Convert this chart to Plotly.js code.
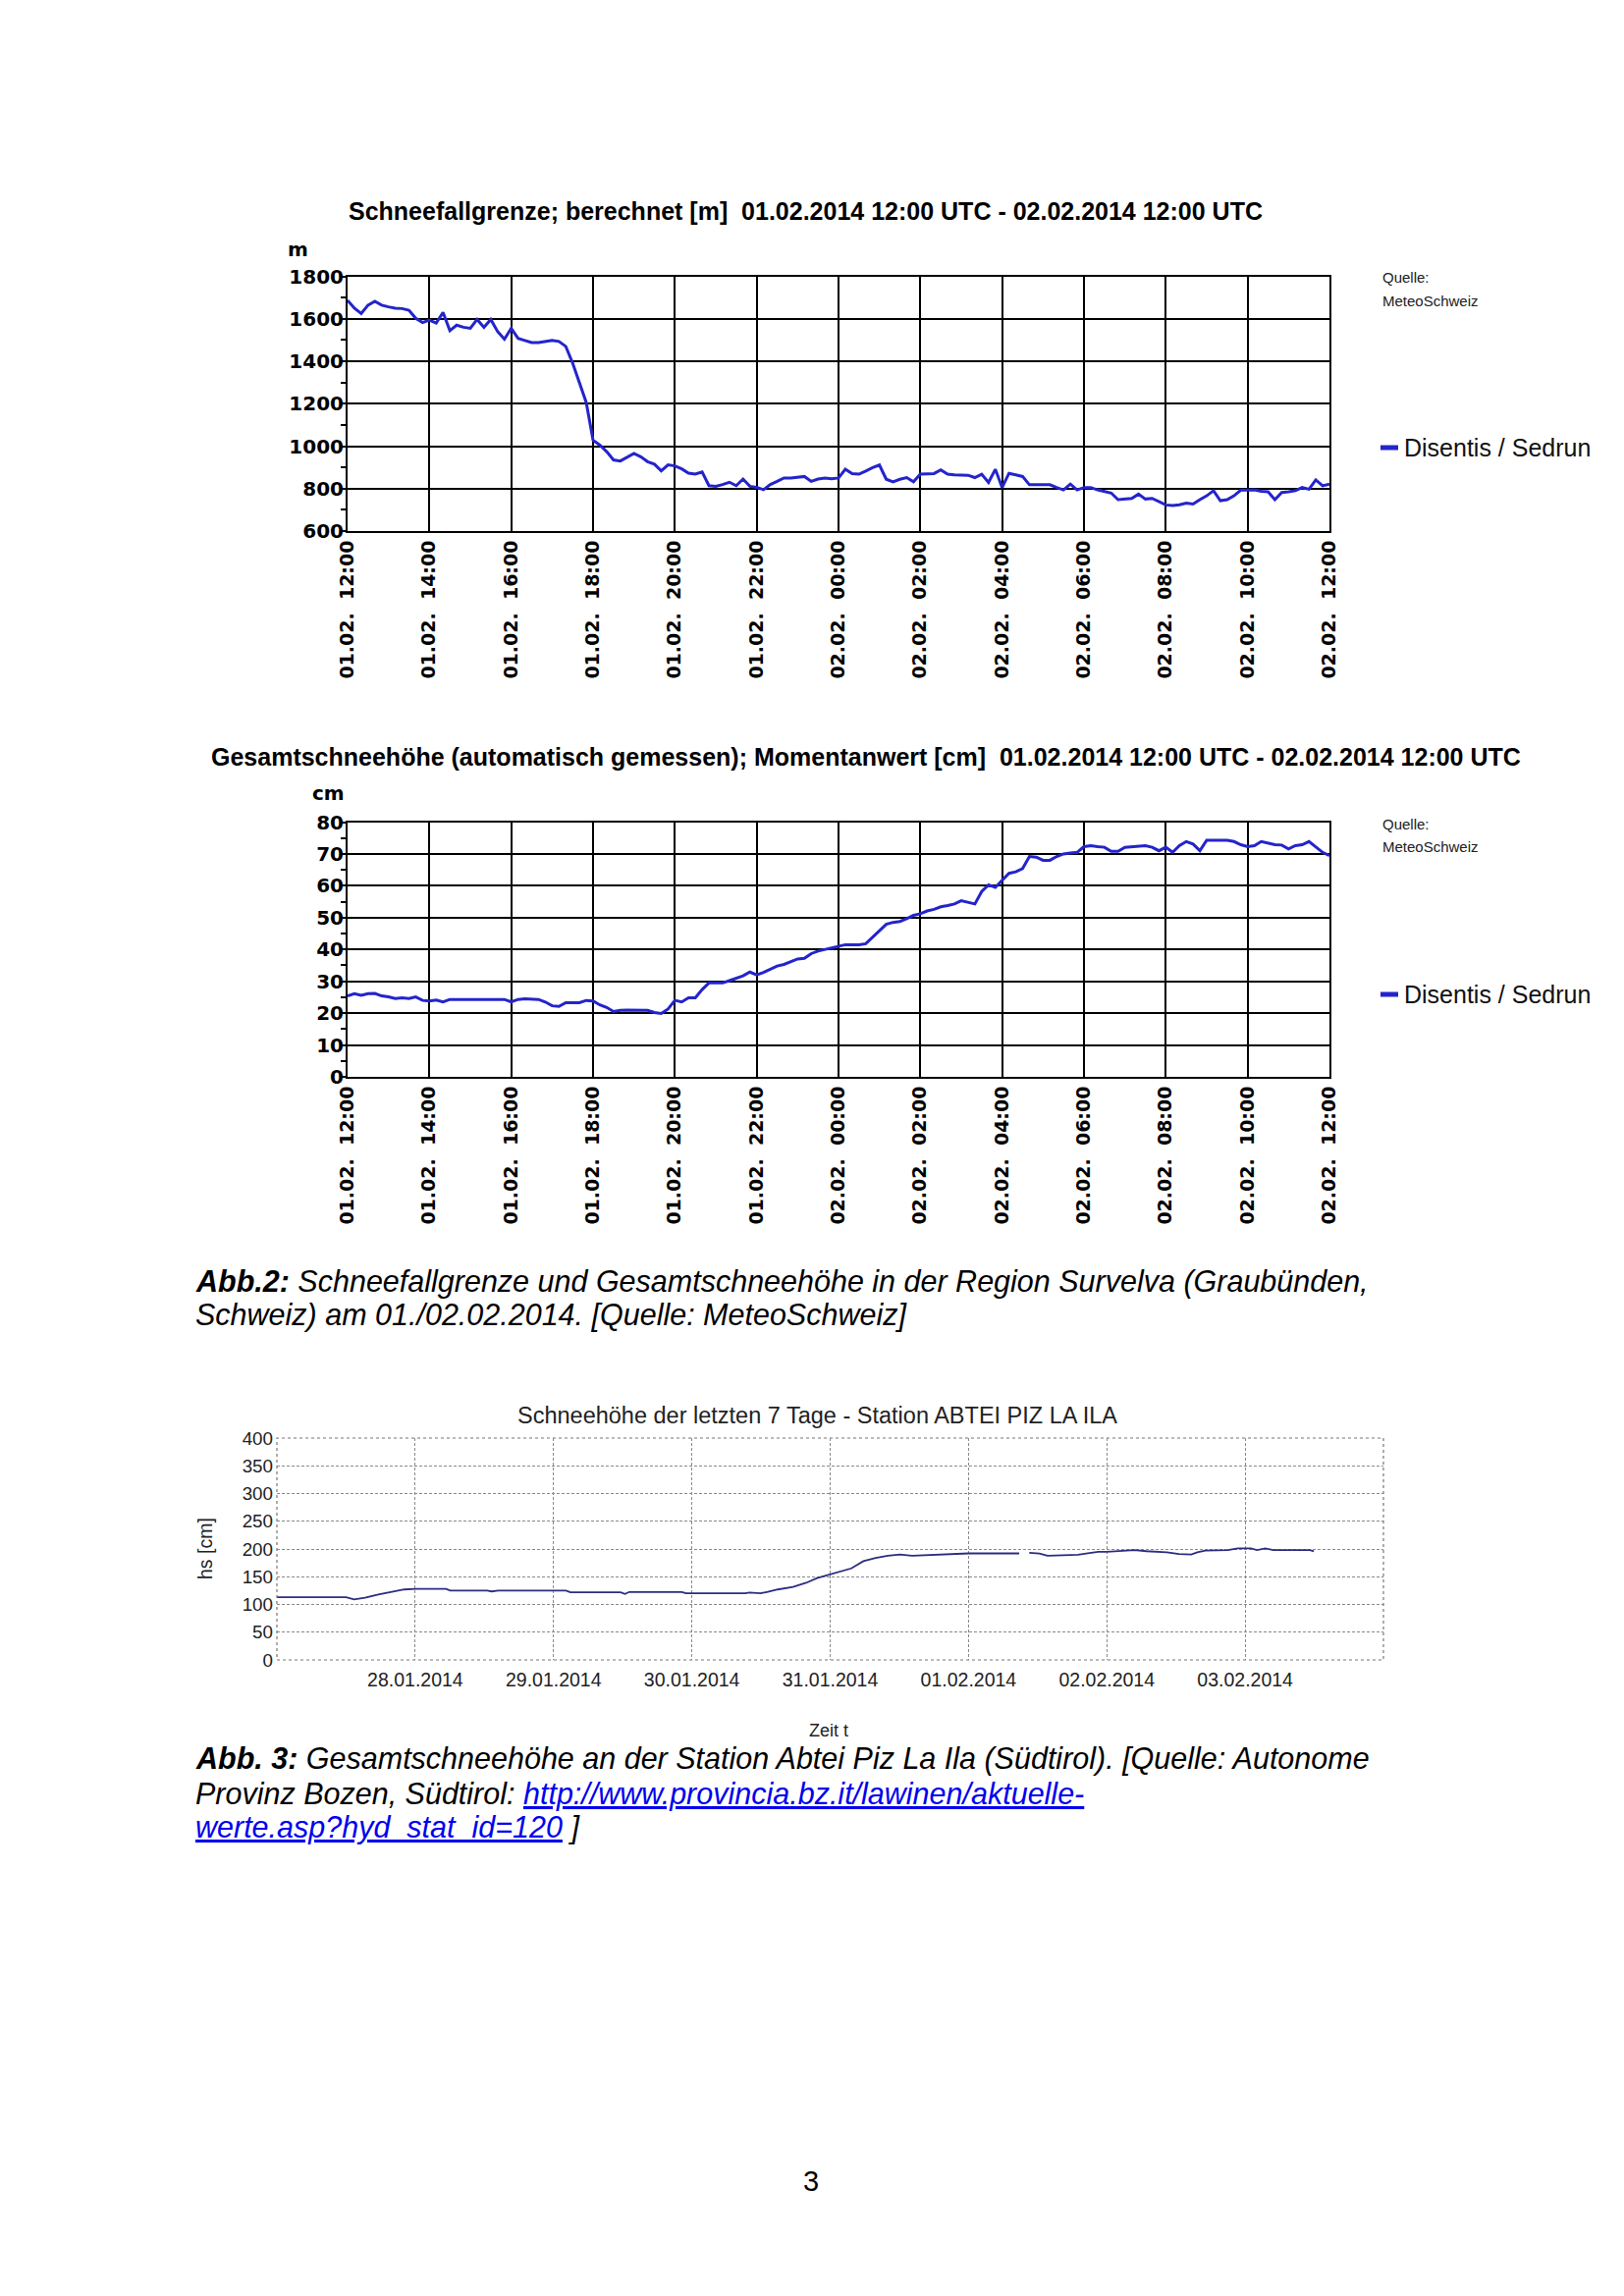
<!DOCTYPE html>
<html><head><meta charset="utf-8">
<script src="https://cdn.plot.ly/plotly-3.0.1.min.js"></script>
<style>html,body{margin:0;padding:0;background:#fff;}#page{width:1654px;height:2339px;}</style>
</head><body><div id="page"></div>
<script>
// ---------- DATA ----------
// Abb.2 (MeteoSchweiz), 10-minute readings 01.02.2014 12:00 UTC .. 02.02.2014 12:00 UTC
const sflStartUTC = [2014, 1, 1, 12, 0];   // 01.02.2014 12:00
const sflStepMinutes = 10;
const schneefallgrenze = [
 1687,1650,1625,1664,1682,1664,1656,1650,1648,1640,
 1602,1582,1594,1580,1630,1544,1570,1560,1555,1597,
 1560,1597,1540,1504,1555,1508,1498,1488,1488,1493,
 1498,1493,1470,1392,1300,1206,1028,1005,974,935,
 930,950,966,950,927,915,884,912,907,893,
 873,868,878,814,811,819,830,814,845,811,
 806,795,819,834,850,850,853,857,834,845,
 850,846,850,891,870,868,883,899,911,844,
 832,844,852,832,868,868,871,888,868,865,
 863,863,852,868,829,891,805,872,865,857,
 818,818,821,818,805,794,821,794,805,805,
 794,785,779,748,751,754,774,751,754,738,
 723,720,724,732,727,748,766,790,743,748,
 766,793,794,794,787,785,748,782,785,790,
 805,797,841,813,821];
const gesamtschneehoehe = [
 25.4,26.1,25.6,26.1,26.2,25.4,25.1,24.6,24.8,24.6,
 25.1,24.0,23.8,24.1,23.5,24.3,24.3,24.3,24.3,24.3,
 24.3,24.3,24.3,24.3,23.5,24.3,24.5,24.5,24.3,23.5,
 22.3,22.1,23.3,23.3,23.3,24.0,23.8,22.6,21.8,20.5,
 20.9,21.0,21.0,21.0,20.9,20.2,19.9,21.3,24.0,23.5,
 24.8,24.8,27.4,29.5,29.5,29.5,30.2,31.0,31.7,32.9,
 32.0,32.8,33.8,34.8,35.3,36.1,37.0,37.2,38.7,39.5,
 40.0,40.6,41.1,41.5,41.5,41.5,41.8,43.8,45.9,47.9,
 48.5,48.8,49.7,50.7,51.2,52.1,52.6,53.4,53.8,54.3,
 55.3,54.9,54.3,58.2,60.3,59.5,61.8,63.9,64.4,65.4,
 69.2,69.0,68.0,68.0,69.2,70.0,70.3,70.5,72.3,72.6,
 72.3,72.1,70.8,70.8,72.1,72.3,72.4,72.6,72.1,71.0,
 72.1,70.5,72.6,73.9,73.1,71.0,74.3,74.3,74.3,74.3,
 73.9,72.9,72.3,72.6,73.9,73.3,72.9,72.8,71.6,72.6,
 72.9,73.9,72.1,70.5,69.5];
const meteoTickLabels = [
 '01.02.\u00a0\u00a012:00','01.02.\u00a0\u00a014:00','01.02.\u00a0\u00a016:00','01.02.\u00a0\u00a018:00',
 '01.02.\u00a0\u00a020:00','01.02.\u00a0\u00a022:00','02.02.\u00a0\u00a000:00','02.02.\u00a0\u00a002:00',
 '02.02.\u00a0\u00a004:00','02.02.\u00a0\u00a006:00','02.02.\u00a0\u00a008:00','02.02.\u00a0\u00a010:00',
 '02.02.\u00a0\u00a012:00'];
const stationName = 'Disentis / Sedrun';

// Abb.3 (Abtei Piz La Ila), last 7 days
const abteiTimes = [
 '2014-01-27 00:00','2014-01-27 12:00','2014-01-27 13:24','2014-01-27 15:18','2014-01-27 17:36',
 '2014-01-27 19:54','2014-01-27 22:06','2014-01-28 00:00','2014-01-28 05:20','2014-01-28 06:05',
 '2014-01-28 12:30','2014-01-28 13:15','2014-01-28 14:25','2014-01-29 02:10','2014-01-29 02:55',
 '2014-01-29 11:38','2014-01-29 12:24','2014-01-29 13:09','2014-01-29 22:15','2014-01-29 23:00',
 '2014-01-30 09:14','2014-01-30 10:00','2014-01-30 11:53','2014-01-30 13:02','2014-01-30 14:55',
 '2014-01-30 17:34','2014-01-30 19:50','2014-01-30 21:44','2014-01-31 00:00','2014-01-31 03:40',
 '2014-01-31 05:46','2014-01-31 07:53','2014-01-31 10:00','2014-01-31 12:06','2014-01-31 14:13',
 '2014-01-31 16:20','2014-01-31 18:26','2014-01-31 20:33','2014-01-31 22:40','2014-02-01 00:00',
 '2014-02-01 08:48','2014-02-01 09:40','2014-02-01 10:33','2014-02-01 12:19','2014-02-01 13:43',
 '2014-02-01 19:00','2014-02-01 20:24','2014-02-01 22:30','2014-02-02 00:00','2014-02-02 02:41',
 '2014-02-02 04:47','2014-02-02 06:54','2014-02-02 10:25','2014-02-02 12:32','2014-02-02 14:39',
 '2014-02-02 15:42','2014-02-02 17:07','2014-02-02 20:59','2014-02-02 22:44','2014-02-03 01:00',
 '2014-02-03 02:04','2014-02-03 03:29','2014-02-03 04:54','2014-02-03 11:14','2014-02-03 11:56'];
const abteiHs = [
 113,113,109,112,118,
 123,127,128,128,125,
 125,123.5,125,125,122,
 122,119,122.5,122.5,120,
 120,121.5,120,122.5,127,
 131.5,139,147.5,154,165,
 178,184,188,190,188,
 189,190,191,192,192,
 192,null,193,192,188,
 189.5,192,195,195,196,
 198,196,194,191,190,
 194,197,198,201,201,
 198,201,198,198,196];
const abteiTickVals = ['2014-01-28','2014-01-29','2014-01-30','2014-01-31','2014-02-01','2014-02-02','2014-02-03'];
const abteiTickLabels = ['28.01.2014','29.01.2014','30.01.2014','31.01.2014','01.02.2014','02.02.2014','03.02.2014'];

// ---------- BUILD ----------
const pad = n => String(n).padStart(2,'0');
const base = Date.UTC(...sflStartUTC);
const meteoTimes = schneefallgrenze.map((_, i) => {
  const d = new Date(base + i*sflStepMinutes*60000);
  return d.getUTCFullYear()+'-'+pad(d.getUTCMonth()+1)+'-'+pad(d.getUTCDate())+' '+pad(d.getUTCHours())+':'+pad(d.getUTCMinutes());
});
const meteoTickVals = meteoTickLabels.map((_, i) => meteoTimes[i*12]);

const W = 1654, H = 2339;
const fx = p => p / W, fy = p => 1 - p / H;
const BLUE = '#2424cc';

const bold20 = {family:'DejaVu Sans', size:20, color:'#000', weight:'bold'};
const xTickFont = {family:'DejaVu Sans', size:19, color:'#000', weight:'bold'};

function meteoX(dom, anchor){
  return {domain:dom, anchor:anchor, type:'date', range:[meteoTimes[0], meteoTimes[meteoTimes.length-1]],
    tickmode:'array', tickvals:meteoTickVals, ticktext:meteoTickLabels, tickangle:-90, tickfont:xTickFont,
    showgrid:true, gridcolor:'#000', gridwidth:2, showline:true, mirror:true, linecolor:'#000', linewidth:2,
    zeroline:false, ticks:'', fixedrange:true};
}
function meteoY(dom, anchor, rng, dt, minorDt){
  return {domain:dom, anchor:anchor, range:rng, tick0:rng[0], dtick:dt, tickfont:bold20,
    ticks:'outside', ticklen:4, tickwidth:2, tickcolor:'#000', ticklabelstandoff:-6,
    minor:{tick0:rng[0], dtick:minorDt, ticks:'outside', ticklen:5, tickwidth:2, tickcolor:'#000', showgrid:false},
    showgrid:true, gridcolor:'#000', gridwidth:2, showline:true, mirror:true, linecolor:'#000', linewidth:2,
    zeroline:false, fixedrange:true};
}

const traces = [
  {x:meteoTimes, y:schneefallgrenze, xaxis:'x', yaxis:'y', mode:'lines', line:{color:BLUE, width:3}, name:stationName},
  {x:meteoTimes, y:gesamtschneehoehe, xaxis:'x2', yaxis:'y2', mode:'lines', line:{color:BLUE, width:3}, name:stationName},
  {x:abteiTimes, y:abteiHs, xaxis:'x3', yaxis:'y3', mode:'lines', connectgaps:false, line:{color:'#2d2d80', width:1.8}, name:'hs'}
];

const sans = (size, color) => ({family:'Liberation Sans, Arial, sans-serif', size:size, color:color||'#000'});
function ann(text, x, y, font, xanchor, extra){
  return Object.assign({text:text, x:fx(x), y:fy(y), xref:'paper', yref:'paper', showarrow:false,
    xanchor:xanchor||'left', yanchor:'middle', font:font}, extra||{});
}
const linkStyle = 'color:#0000ee';

const annotations = [
  ann('<b>Schneefallgrenze; berechnet [m]\u00a0 01.02.2014 12:00 UTC - 02.02.2014 12:00 UTC</b>', 353, 215, sans(25)),
  ann('<b>m</b>', 303, 254, bold20, 'center'),
  ann('Quelle:', 1406, 283, sans(15,'#222')),
  ann('MeteoSchweiz', 1406, 306, sans(15,'#222')),
  ann(stationName, 1428, 456, sans(25,'#111')),

  ann('<b>Gesamtschneehöhe (automatisch gemessen); Momentanwert [cm]\u00a0 01.02.2014 12:00 UTC - 02.02.2014 12:00 UTC</b>', 213, 771, sans(25)),
  ann('<b>cm</b>', 334, 808, bold20, 'center'),
  ann('Quelle:', 1406, 840, sans(15,'#222')),
  ann('MeteoSchweiz', 1406, 862, sans(15,'#222')),
  ann(stationName, 1428, 1013, sans(25,'#111')),

  ann('<b><i>Abb.2:</i></b><i> Schneefallgrenze und Gesamtschneehöhe in der Region Survelva (Graubünden,</i>', 197, 1305, sans(30.5)),
  ann('<i>Schweiz) am 01./02.02.2014. [Quelle: MeteoSchweiz]</i>', 197, 1339, sans(30.5)),

  ann('Schneehöhe der letzten 7 Tage - Station ABTEI PIZ LA ILA', 832, 1442, sans(23.5,'#222'), 'center'),
  ann('hs [cm]', 209, 1578, sans(19.5,'#222'), 'center', {textangle:-90}),
  ann('Zeit t', 844, 1763, sans(18,'#222'), 'center'),

  ann('<b><i>Abb. 3:</i></b><i> Gesamtschneehöhe an der Station Abtei Piz La Ila (Südtirol). [Quelle: Autonome</i>', 197, 1791, sans(30.5)),
  ann('<i>Provinz Bozen, Südtirol: <a href="http://www.provincia.bz.it/lawinen/aktuelle-werte.asp?hyd_stat_id=120" style="'+linkStyle+'"><u>http://www.provincia.bz.it/lawinen/aktuelle-</u></a></i>', 197, 1827, sans(30.5)),
  ann('<i><a href="http://www.provincia.bz.it/lawinen/aktuelle-werte.asp?hyd_stat_id=120" style="'+linkStyle+'"><u>werte.asp?hyd_stat_id=120</u></a> ]</i>', 197, 1861, sans(30.5)),

  ann('3', 826, 2222, sans(29), 'center')
];

const shapes = [
  {type:'line', xref:'paper', yref:'paper', x0:fx(1406), x1:fx(1424), y0:fy(456), y1:fy(456), line:{color:BLUE, width:5}},
  {type:'line', xref:'paper', yref:'paper', x0:fx(1406), x1:fx(1424), y0:fy(1013), y1:fy(1013), line:{color:BLUE, width:5}},
  {type:'rect', xref:'paper', yref:'paper', x0:fx(282), x1:fx(1409), y0:fy(1691), y1:fy(1465), line:{color:'#777', width:1.2, dash:'dot'}}
];

const layout = {
  width:W, height:H, autosize:false, margin:{l:0,r:0,t:0,b:0,pad:0},
  paper_bgcolor:'#fff', plot_bgcolor:'#fff', showlegend:false,
  xaxis: meteoX([fx(354), fx(1354)], 'y'),
  yaxis: meteoY([fy(541), fy(281.5)], 'x', [600,1800], 200, 100),
  xaxis2: meteoX([fx(354), fx(1354)], 'y2'),
  yaxis2: meteoY([fy(1097), fy(837.5)], 'x2', [0,80], 10, 5),
  xaxis3: {domain:[fx(282), fx(1409)], anchor:'y3', type:'date', range:['2014-01-27 00:00','2014-02-04 00:00'],
    tickmode:'array', tickvals:abteiTickVals, ticktext:abteiTickLabels, tickfont:sans(19.5,'#222'), ticklabelstandoff:6,
    showgrid:true, gridcolor:'#8a8a8a', gridwidth:1, griddash:'3px,2px', showline:false, zeroline:false, ticks:'', fixedrange:true},
  yaxis3: {domain:[fy(1691), fy(1465)], anchor:'x3', range:[0,400], tick0:0, dtick:50, tickfont:sans(18.8,'#222'), ticklabelstandoff:3,
    showgrid:true, gridcolor:'#8a8a8a', gridwidth:1, griddash:'3px,2px', showline:false, zeroline:false, ticks:'', fixedrange:true},
  annotations: annotations,
  shapes: shapes
};

Plotly.newPlot('page', traces, layout, {displayModeBar:false, staticPlot:true});
</script>
</body></html>
